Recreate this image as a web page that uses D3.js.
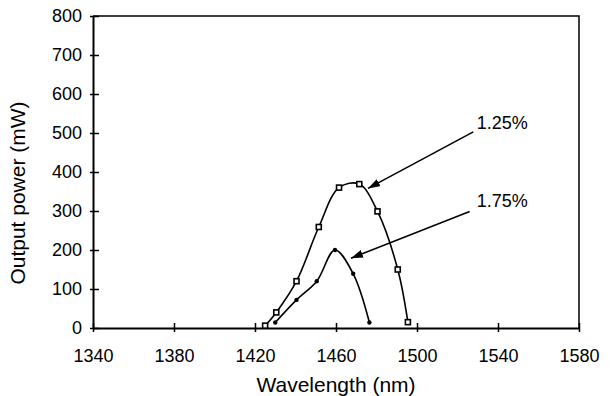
<!DOCTYPE html>
<html>
<head>
<meta charset="utf-8">
<script src="https://cdn.jsdelivr.net/npm/d3@7"></script>
<style>
  html, body { margin: 0; padding: 0; background: #fff; }
  svg { display: block; }
  text { font-family: "Liberation Sans", Arial, sans-serif; fill: #000; }
</style>
</head>
<body>
<svg id="chart" width="610" height="396"></svg>
<script>
// ---- data ----
const xTicks = [1340, 1380, 1420, 1460, 1500, 1540, 1580];
const yTicks = [0, 100, 200, 300, 400, 500, 600, 700, 800];

const wl125 = [1425, 1430.5, 1440.5, 1451.5, 1461.5, 1471.5, 1480.5, 1490.5, 1495.5];
const pw125 = [6, 40, 120, 259, 360, 369, 299, 150, 15];

const wl175 = [1430, 1440.5, 1450.5, 1459.5, 1468.5, 1476.5];
const pw175 = [14, 72, 120, 200, 139, 14];

const seriesLabels = ["1.25%", "1.75%"];
// annotation: [label x, arrow start x, arrow tip x] and matching y values, in data units
const annX = [[1529.5, 1527.8, 1475.8], [1529.5, 1526, 1467.4]];
const annY = [[510, 503, 358], [310, 299, 179]];

const xTitle = "Wavelength (nm)";
const yTitle = "Output power (mW)";

// ---- layout ----
const W = 610, H = 396;
const m = { left: 93, right: 31, top: 16, bottom: 68 };
const svg = d3.select("#chart");

const x = d3.scaleLinear().domain([1340, 1580]).range([m.left, W - m.right]);
const y = d3.scaleLinear().domain([0, 800]).range([H - m.bottom, m.top]);

// frame (top and right)
svg.append("path")
  .attr("d", `M${x(1340)},${y(800)}H${x(1580)}V${y(0)}`)
  .attr("fill", "none").attr("stroke", "#000").attr("stroke-width", 1.5);

// x axis
const gx = svg.append("g").attr("transform", `translate(0,${y(0)})`)
  .call(d3.axisBottom(x).tickValues(xTicks).tickFormat(d3.format("d")).tickSize(0).tickPadding(21));
gx.select(".domain").attr("stroke-width", 2);
gx.selectAll(".tick").append("line").attr("y1", -5).attr("y2", 4).attr("stroke", "#000").attr("stroke-width", 1.5);
gx.selectAll("text").attr("font-size", 18).attr("font-family", "Liberation Sans, Arial, sans-serif");

// y axis
const gy = svg.append("g").attr("transform", `translate(${x(1340)},0)`)
  .call(d3.axisLeft(y).tickValues(yTicks).tickFormat(d3.format("d")).tickSize(0).tickPadding(11));
gy.select(".domain").attr("stroke-width", 2);
gy.selectAll(".tick").append("line").attr("x1", -3).attr("x2", 6).attr("stroke", "#000").attr("stroke-width", 1.5);
gy.selectAll("text").attr("font-size", 18).attr("font-family", "Liberation Sans, Arial, sans-serif");

// axis titles
svg.append("text").attr("x", (x(1340) + x(1580)) / 2).attr("y", 392)
  .attr("text-anchor", "middle").attr("font-size", 21).text(xTitle);
svg.append("text")
  .attr("transform", `translate(25,193) rotate(-90)`)
  .attr("text-anchor", "middle").attr("font-size", 21).text(yTitle);

// curves
const line = d3.line().x(d => x(d[0])).y(d => y(d[1])).curve(d3.curveCatmullRom.alpha(0.5));
const d125 = wl125.map((w, i) => [w, pw125[i]]);
const d175 = wl175.map((w, i) => [w, pw175[i]]);

svg.append("path").datum(d125).attr("d", line)
  .attr("fill", "none").attr("stroke", "#000").attr("stroke-width", 1.6);
svg.append("path").datum(d175).attr("d", line)
  .attr("fill", "none").attr("stroke", "#000").attr("stroke-width", 1.6);

svg.append("g").selectAll("rect").data(d125).join("rect")
  .attr("x", d => x(d[0]) - 2.5).attr("y", d => y(d[1]) - 2.5)
  .attr("width", 5).attr("height", 5)
  .attr("fill", "#fff").attr("stroke", "#000").attr("stroke-width", 1.6);
svg.append("g").selectAll("circle").data(d175).join("circle")
  .attr("cx", d => x(d[0])).attr("cy", d => y(d[1])).attr("r", 2.2)
  .attr("fill", "#000");

// annotations
svg.append("defs").append("marker")
  .attr("id", "ah").attr("viewBox", "0 0 12 8").attr("refX", 12).attr("refY", 4)
  .attr("markerWidth", 12).attr("markerHeight", 8).attr("markerUnits", "userSpaceOnUse")
  .attr("orient", "auto")
  .append("path").attr("d", "M0,0L12,4L0,8Z").attr("fill", "#000");

seriesLabels.forEach((lab, i) => {
  svg.append("line")
    .attr("x1", x(annX[i][1])).attr("y1", y(annY[i][1]))
    .attr("x2", x(annX[i][2])).attr("y2", y(annY[i][2]))
    .attr("stroke", "#000").attr("stroke-width", 1.6).attr("marker-end", "url(#ah)");
  svg.append("text").attr("x", x(annX[i][0])).attr("y", y(annY[i][0]))
    .attr("font-size", 18).text(lab);
});
</script>
</body>
</html>
